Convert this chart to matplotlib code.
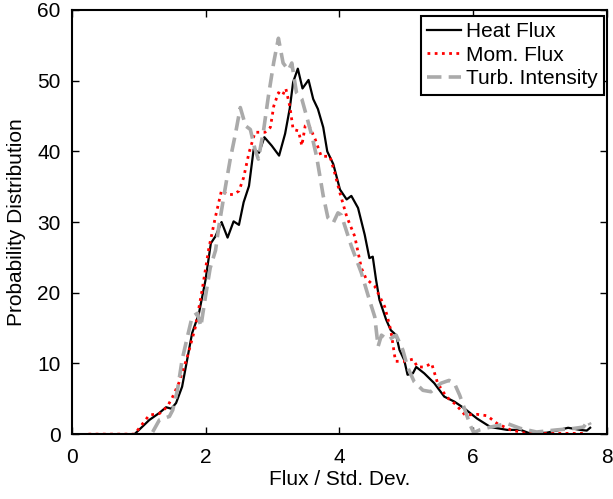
import numpy as np
import matplotlib.pyplot as plt

plt.rcParams['font.family'] = ['Liberation Sans', 'DejaVu Sans']

# Heat flux (black solid)
heat_x = [0.25, 0.94, 1.16, 1.31, 1.41, 1.49, 1.56, 1.65, 1.80, 1.90, 2.00, 2.08, 2.15,
          2.24, 2.33, 2.42, 2.50, 2.57, 2.65, 2.72, 2.80, 2.88, 2.99, 3.10, 3.19, 3.26,
          3.31, 3.38, 3.45, 3.54, 3.61, 3.68, 3.76, 3.82, 3.91, 4.01, 4.11, 4.18, 4.28,
          4.38, 4.45, 4.50, 4.55, 4.60, 4.70, 4.77, 4.85, 4.90, 4.97, 5.02, 5.10, 5.15,
          5.27, 5.42, 5.57, 5.72, 5.86, 6.06, 6.26, 6.51, 6.71, 6.85, 7.10, 7.25, 7.42,
          7.60, 7.70, 7.75]
heat_y = [0, 0, 2.0, 3.0, 3.8, 3.6, 4.4, 6.7, 14.3, 17.0, 21.8, 27.0, 28.0,
          30.0, 27.8, 30.1, 29.6, 32.8, 35.1, 40.3, 39.8, 42.0, 40.8, 39.4, 42.5, 46.1,
          49.8, 51.7, 48.9, 50.1, 47.4, 46.0, 43.4, 40.0, 38.2, 34.6, 33.2, 33.7, 32.0,
          28.2, 24.9, 25.1, 21.8, 19.0, 16.2, 14.7, 14.0, 11.9, 10.5, 8.4, 8.6, 9.5,
          8.6, 7.2, 5.3, 4.6, 3.7, 2.2, 1.0, 0.6, 0.6, 0.1, 0.2, 0.5, 0.9,
          0.6, 0.5, 0.9]

# Momentum flux (red dotted)
mom_x = [0.25, 0.94, 1.16, 1.31, 1.43, 1.51, 1.60, 1.73, 1.85, 1.95, 2.05, 2.15, 2.24,
         2.32, 2.42, 2.50, 2.57, 2.65, 2.74, 2.89, 2.97, 3.02, 3.09, 3.15, 3.20, 3.26,
         3.31, 3.39, 3.44, 3.49, 3.54, 3.64, 3.73, 3.86, 3.93, 4.01, 4.11, 4.23, 4.33,
         4.40, 4.53, 4.68, 4.77, 4.84, 4.97, 5.10, 5.17, 5.27, 5.38, 5.47, 5.60, 5.74,
         5.88, 6.06, 6.21, 6.36, 6.56, 6.80, 7.70]
mom_y = [0, 0, 2.7, 2.9, 3.9, 5.3, 7.2, 11.0, 15.2, 20.4, 26.3, 30.8, 34.5,
         33.9, 33.9, 34.4, 36.3, 39.8, 42.7, 42.7, 43.4, 46.4, 48.3, 47.9, 48.9, 46.4,
         43.1, 42.9, 40.8, 43.6, 43.8, 41.7, 39.3, 39.3, 37.0, 34.1, 30.8, 28.0, 23.5,
         22.0, 20.9, 18.0, 14.7, 10.3, 10.3, 10.6, 9.5, 9.5, 10.0, 7.2, 5.3, 4.2,
         2.7, 2.8, 2.6, 1.5, 0.6, 0.1, 0.1]

# Turbulence intensity (grey dashed)
turb_x = [1.21, 1.31, 1.46, 1.51, 1.58, 1.65, 1.73, 1.80, 1.88, 1.93, 2.00, 2.07, 2.15,
          2.20, 2.30, 2.37, 2.45, 2.52, 2.60, 2.67, 2.74, 2.79, 2.87, 2.94, 3.02, 3.09,
          3.16, 3.24, 3.29, 3.36, 3.44, 3.51, 3.59, 3.66, 3.71, 3.76, 3.83, 3.91, 3.98,
          4.03, 4.18, 4.33, 4.45, 4.53, 4.58, 4.63, 4.73, 4.85, 4.95, 5.02, 5.12, 5.25,
          5.37, 5.52, 5.64, 5.72, 5.80, 5.86, 5.96, 6.01, 6.10, 6.26, 6.51, 6.71, 6.95,
          7.25, 7.50, 7.65, 7.72, 7.75]
turb_y = [0.3, 2.0, 2.5, 3.4, 6.2, 10.5, 13.8, 16.6, 17.1, 15.2, 19.5, 23.5, 26.0,
          29.4, 35.1, 38.9, 42.6, 46.2, 43.6, 43.1, 40.3, 38.9, 43.1, 47.8, 52.6, 56.0,
          52.5, 51.5, 52.5, 48.3, 47.4, 45.0, 42.2, 39.3, 36.5, 33.7, 30.6, 29.9, 31.3,
          31.0, 26.6, 22.8, 19.0, 16.6, 12.4, 14.0, 13.3, 14.0, 11.9, 9.5, 7.4, 6.2,
          6.0, 7.2, 7.6, 7.2, 5.5, 3.9, 1.2, 0.2, 0.6, 1.0, 1.5, 0.8, 0.3,
          0.6, 0.8, 1.0, 1.9, 1.3]

fig = plt.figure(figsize=(6.13, 4.99), dpi=100)
ax = fig.add_axes([0.117, 0.130, 0.873, 0.850])

ax.plot(heat_x, heat_y, color='black', lw=1.6, label='Heat Flux')
ax.plot(mom_x, mom_y, color='red', lw=2.0, linestyle=(0, (1, 1.6)), label='Mom. Flux')
ax.plot(turb_x, turb_y, color='#aaaaaa', lw=2.6, linestyle=(0, (4, 2)), label='Turb. Intensity')

ax.set_xlim(0, 8)
ax.set_ylim(0, 60)
ax.set_xticks([0, 2, 4, 6, 8])
ax.set_yticks([0, 10, 20, 30, 40, 50, 60])
ax.tick_params(direction='in', top=True, right=True, length=5, width=1, labelsize=15)
ax.tick_params(axis='x', pad=10)
ax.tick_params(axis='y', pad=8)
for s in ax.spines.values():
    s.set_linewidth(1.5)

ax.set_xlabel('Flux / Std. Dev.', fontsize=15, labelpad=2)
ax.set_ylabel('Probability Distribution', fontsize=15, labelpad=8)

leg = ax.legend(loc='upper right', bbox_to_anchor=(0.994, 0.986), fontsize=15,
                fancybox=False, framealpha=1, edgecolor='black', borderpad=0.3,
                labelspacing=0.22, handlelength=1.65, handletextpad=0.2,
                borderaxespad=0)
leg.get_frame().set_linewidth(1.5)

fig.savefig('out.png', dpi=100)
